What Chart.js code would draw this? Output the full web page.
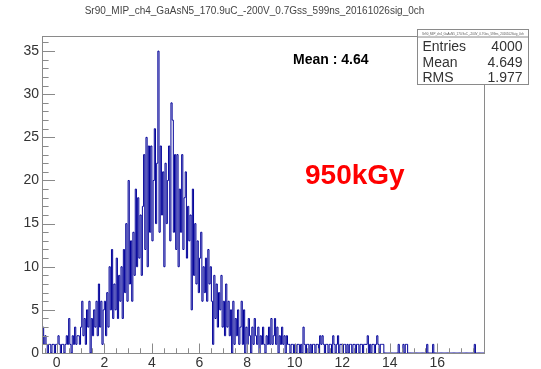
<!DOCTYPE html>
<html>
<head>
<meta charset="utf-8">
<style>
  html, body { margin: 0; padding: 0; background: #ffffff; }
  #wrap { width: 541px; height: 369px; }
</style>
<script src="https://cdn.jsdelivr.net/npm/chart.js@4.4.0/dist/chart.umd.min.js"></script>
</head>
<body>
<div id="wrap"><canvas id="c" width="541" height="369"></canvas></div>
<script>
// Histogram title and annotations
const titleText = 'Sr90_MIP_ch4_GaAsN5_170.9uC_-200V_0.7Gss_599ns_20161026sig_0ch';
const meanNote = 'Mean : 4.64';
const doseNote = '950kGy';

// Statistics box
const statNames = ['Entries', 'Mean', 'RMS'];
const statValues = ['4000', '4.649', '1.977'];

// Binning of the signal histogram
const binStart = -0.6;
const binWidth = 0.05;

// Counts per bin, one row per unit of x (first row: -0.6 .. 0)
const counts = [
  3,1,2,1,0,1,1,0,1,1,0,1,
  1,2,1,0,1,1,0,1,2,1,4,1,0,2,1,3,1,2,2,1,
  3,6,2,4,1,5,3,6,0,4,2,5,3,6,2,8,3,6,1,5,
  6,2,7,3,10,5,12,4,8,5,11,4,9,6,10,4,12,7,15,6,
  20,8,13,6,14,9,19,10,18,11,16,9,17,23,12,25,10,24,14,24,
  13,20,26,15,22,35,14,24,16,21,10,22,15,20,24,13,29,27,14,23,
  12,23,10,19,14,23,12,18,21,11,17,13,16,5,19,9,15,8,13,7,
  11,14,6,10,7,11,6,12,8,10,6,1,9,4,8,3,7,5,9,3,
  6,2,8,3,6,2,5,0,6,1,4,2,5,1,3,6,1,5,0,3,
  1,4,2,0,3,1,4,2,1,3,0,2,1,3,1,0,2,1,3,1,
  4,1,2,4,1,3,0,2,1,3,1,2,0,2,1,1,0,1,1,0,
  1,0,1,1,0,1,0,3,1,0,1,1,0,1,0,1,1,0,1,1,
  0,2,1,2,1,0,1,1,0,1,1,0,2,1,0,1,2,0,1,1,
  0,1,1,0,1,0,1,1,0,1,1,0,1,1,0,1,1,0,1,1,
  1,2,0,1,0,1,1,0,1,2,1,0,1,1,1,0,0,0,0,0,
  0,0,0,0,0,0,0,1,0,0,0,1,0,1,1,0,0,0,0,0,
  0,0,0,0,0,0,0,0,0,0,0,1,0,0,0,0,1,0,0,0,
  0,0,0,0,0,0,0,0,0,0,0,0,0,0,0,0,0,0,0,0,
  0,0,0,0,0,0,0,0,0,0,0,1,0,0,0,0,0,0,0,0
];

// Axis labels
const xLabels = [0, 2, 4, 6, 8, 10, 12, 14, 16];
const yLabels = [0, 5, 10, 15, 20, 25, 30, 35];

const lineColor = '#000099';
const frameColor = '#8a8a8a';
const textColor = '#333333';
const fontFamily = '"Liberation Sans", Arial, sans-serif';

// Step outline points: each bin starts at its low edge, closed at the last upper edge
const points = counts.map((c, i) => ({ x: binStart + i * binWidth, y: c }));
points.push({ x: binStart + counts.length * binWidth, y: counts[counts.length - 1] });

const rootStyle = {
  id: 'rootStyle',
  beforeDraw(chart) {
    const ctx = chart.ctx;
    ctx.save();
    ctx.fillStyle = '#ffffff';
    ctx.fillRect(0, 0, chart.width, chart.height);
    ctx.restore();
  },
  afterDatasetsDraw(chart) {
    const ctx = chart.ctx;
    const a = chart.chartArea;
    const xs = chart.scales.x, ys = chart.scales.y;
    ctx.save();
    ctx.strokeStyle = frameColor;
    ctx.lineWidth = 1;
    ctx.beginPath();
    // inward tick marks, long on labelled values
    xs.ticks.forEach(t => {
      const px = Math.round(xs.getPixelForValue(t.value)) + 0.5;
      const len = xLabels.includes(t.value) ? 9.5 : 4.75;
      ctx.moveTo(px, a.bottom);
      ctx.lineTo(px, a.bottom - len);
    });
    ys.ticks.forEach(t => {
      const py = Math.round(ys.getPixelForValue(t.value)) + 0.5;
      const len = yLabels.includes(t.value) ? 13 : 6.6;
      ctx.moveTo(a.left, py);
      ctx.lineTo(a.left + len, py);
    });
    ctx.stroke();
    // frame
    ctx.strokeRect(Math.round(a.left) + 0.5, Math.round(a.top) + 0.5,
                   Math.round(a.right - a.left), Math.round(a.bottom - a.top));
    ctx.restore();
  },
  afterDraw(chart) {
    const ctx = chart.ctx;
    ctx.save();
    // title
    ctx.fillStyle = '#444444';
    ctx.font = '10px ' + fontFamily;
    ctx.textAlign = 'center';
    ctx.textBaseline = 'alphabetic';
    ctx.fillText(titleText, 254.5, 14);

    // statistics box
    const bx = 417.5, by = 29.5, bw = 111, bh = 55;
    ctx.fillStyle = '#ffffff';
    ctx.fillRect(bx, by, bw, bh);
    ctx.strokeStyle = frameColor;
    ctx.lineWidth = 1;
    ctx.strokeRect(bx, by, bw, bh);
    ctx.beginPath();
    ctx.moveTo(bx, by + 7.5);
    ctx.lineTo(bx + bw, by + 7.5);
    ctx.stroke();
    ctx.fillStyle = '#555555';
    ctx.font = '3px ' + fontFamily;
    ctx.fillText(titleText, bx + bw / 2, by + 5);
    ctx.fillStyle = textColor;
    ctx.font = '14px ' + fontFamily;
    const rowBase = [50.5, 66.5, 82];
    statNames.forEach((n, i) => {
      ctx.textAlign = 'left';
      ctx.fillText(n, 422.5, rowBase[i]);
      ctx.textAlign = 'right';
      ctx.fillText(statValues[i], 522.5, rowBase[i]);
    });

    // annotations
    ctx.textAlign = 'left';
    ctx.fillStyle = '#000000';
    ctx.font = 'bold 14px ' + fontFamily;
    ctx.fillText(meanNote, 293, 64);
    ctx.fillStyle = '#ff0000';
    ctx.font = 'bold 28px ' + fontFamily;
    ctx.fillText(doseNote, 305, 184);
    ctx.restore();
  }
};

new Chart(document.getElementById('c'), {
  type: 'line',
  data: {
    datasets: [{
      data: points,
      borderColor: lineColor,
      borderWidth: 1,
      pointRadius: 0,
      fill: false,
      stepped: 'before',
      tension: 0
    }]
  },
  options: {
    responsive: false,
    animation: false,
    devicePixelRatio: 1,
    layout: { padding: { top: 36, right: 57, left: 0, bottom: 0 } },
    plugins: {
      legend: { display: false },
      title: { display: false },
      tooltip: { enabled: false }
    },
    scales: {
      x: {
        type: 'linear',
        min: -0.62,
        max: 17.96,
        afterBuildTicks(s) {
          const t = [];
          for (let v = -0.5; v <= 17.5; v += 0.5) t.push({ value: v });
          s.ticks = t;
        },
        afterFit(s) { s.height = 16; },
        grid: { display: false, drawTicks: false },
        border: { display: false },
        ticks: {
          autoSkip: false,
          maxRotation: 0,
          padding: 2,
          color: textColor,
          font: { family: fontFamily, size: 14 },
          callback: v => xLabels.includes(v) ? String(v) : ''
        }
      },
      y: {
        type: 'linear',
        min: 0,
        max: 36.75,
        afterBuildTicks(s) {
          const t = [];
          for (let v = 0; v <= 36; v += 1) t.push({ value: v });
          s.ticks = t;
        },
        afterFit(s) { s.width = 42; },
        grid: { display: false, drawTicks: false },
        border: { display: false },
        ticks: {
          autoSkip: false,
          padding: 3,
          color: textColor,
          font: { family: fontFamily, size: 14 },
          callback: v => yLabels.includes(v) ? String(v) : ''
        }
      }
    }
  },
  plugins: [rootStyle]
});
</script>
</body>
</html>
